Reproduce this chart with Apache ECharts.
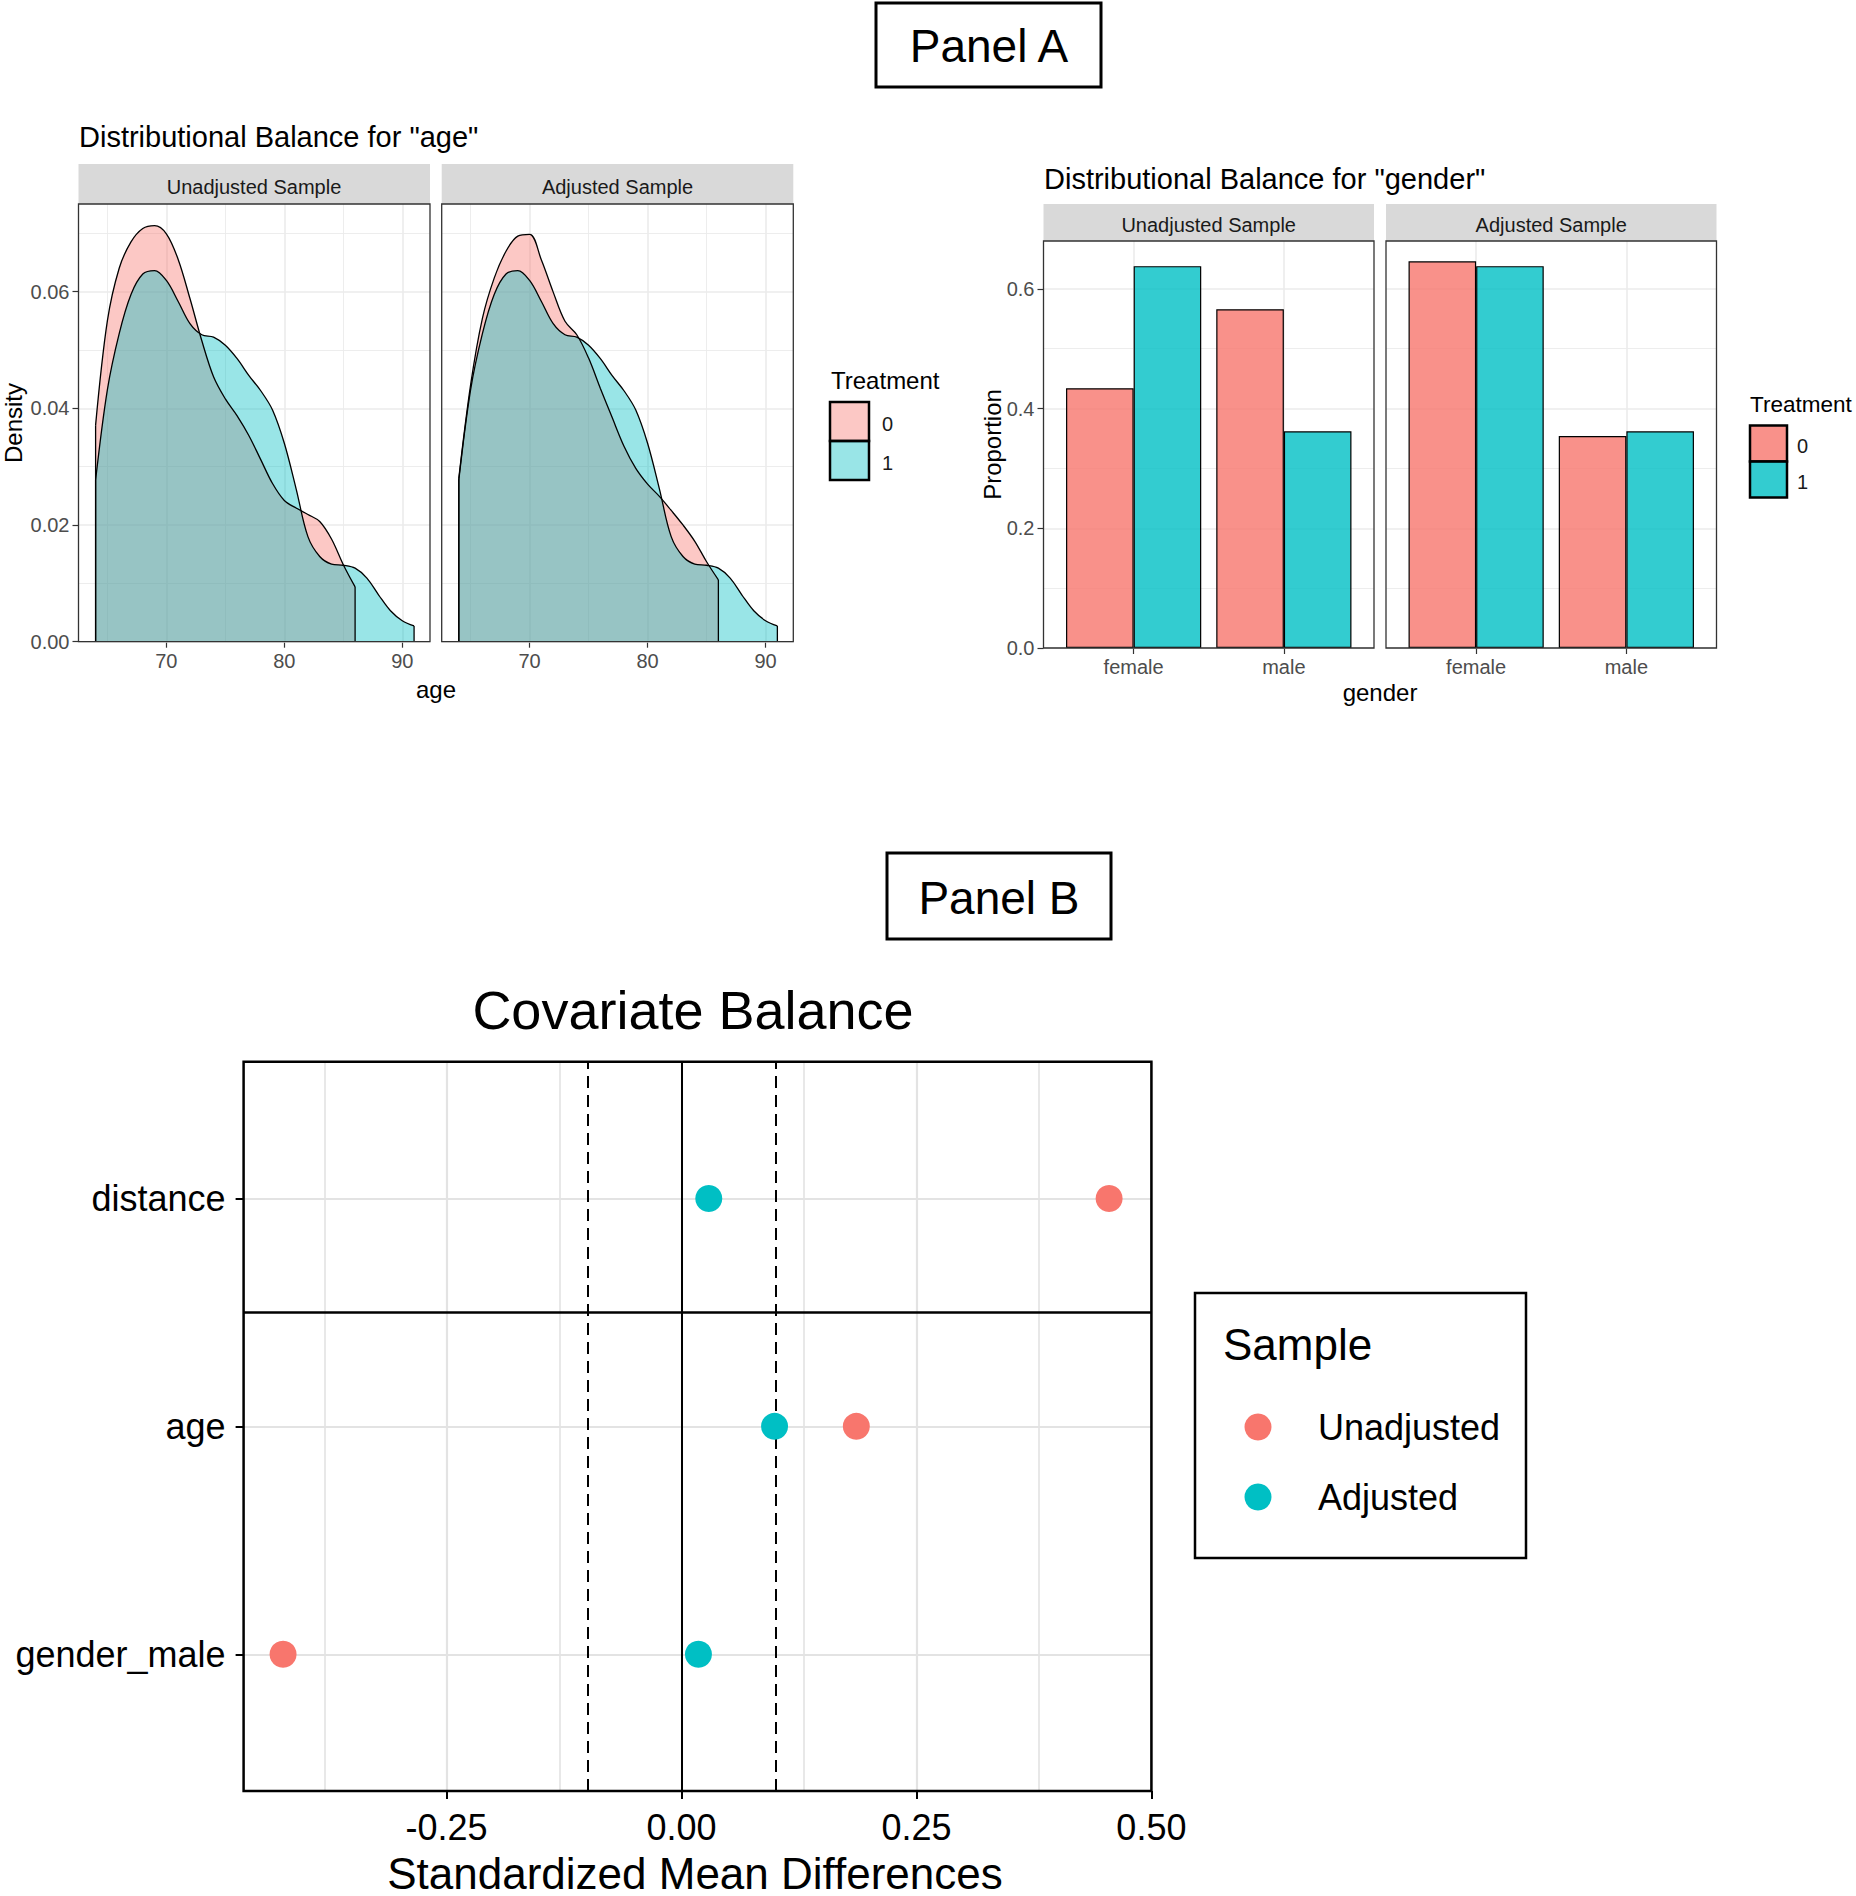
<!DOCTYPE html>
<html>
<head>
<meta charset="utf-8">
<title>Balance plots</title>
<script src="https://cdn.jsdelivr.net/npm/echarts@6.0.0/dist/echarts.min.js"></script>
<style>
  html, body { margin: 0; padding: 0; background: #fff; }
  #chart { width: 1856px; height: 1896px; }
</style>
</head>
<body>
<div id="chart"></div>
<script>
// values
const ages = [64, 65, 66, 67, 68, 69, 70, 71, 72, 73, 74, 75, 76, 77, 78, 79, 80, 81, 82, 83, 84, 85, 86, 87, 88, 89, 90, 91];
// treated group (1) is the same in both samples
const densTreated = [0.0277, 0.0432, 0.0528, 0.0595, 0.0630, 0.0636, 0.0619, 0.0583, 0.0545, 0.0526, 0.0522, 0.0508, 0.0485, 0.0456, 0.0430, 0.0397, 0.0340, 0.0262, 0.0180, 0.0146, 0.0133, 0.0131, 0.0126, 0.0109, 0.0080, 0.0053, 0.0036, 0.0027];
const densControlUnadj = [0.0371, 0.0550, 0.0640, 0.0685, 0.0708, 0.0713, 0.0699, 0.0655, 0.0588, 0.0516, 0.0454, 0.0416, 0.0387, 0.0353, 0.0312, 0.0271, 0.0242, 0.0229, 0.0218, 0.0206, 0.0176, 0.0132, 0.0094];
const densControlAdj = [0.0280, 0.0440, 0.0554, 0.0623, 0.0669, 0.0695, 0.0698, 0.0654, 0.0599, 0.0549, 0.0526, 0.0486, 0.0434, 0.0384, 0.0335, 0.0297, 0.0270, 0.0249, 0.0225, 0.0200, 0.0172, 0.0137, 0.0106];

const genderCats = ['female', 'male'];
const propUnadj0 = [0.434, 0.566];
const propUnadj1 = [0.638, 0.362];
const propAdj0 = [0.646, 0.354];
const propAdj1 = [0.638, 0.362];

const covariates = ['gender_male', 'age', 'distance'];   // bottom to top
const smdUnadj = [-0.424, 0.186, 0.455];
const smdAdj = [0.018, 0.099, 0.029];
const thresholds = [-0.1, 0.1];

const panels = ['Unadjusted Sample', 'Adjusted Sample'];
const treatLevels = ['0', '1'];
const sampleNames = ['Unadjusted', 'Adjusted'];

const ageTicks = [70, 80, 90];
const ageMinor = [65, 75, 85];
const densTicks = [0, 0.02, 0.04, 0.06];
const densMinor = [0.01, 0.03, 0.05, 0.07];
const propTicks = [0, 0.2, 0.4, 0.6];
const propMinor = [0.1, 0.3, 0.5];
const smdTicks = [-0.25, 0, 0.25, 0.5];
const smdMinor = [-0.375, -0.125, 0.125, 0.375];

const FONT = '"Liberation Sans", Arial, sans-serif';
const RED = '248,118,109', TEAL = '0,191,196';

const chart = echarts.init(document.getElementById('chart'), null, { renderer: 'svg' });

function gridBox(left, top, width, height, border, bw) {
    return { left, top, width, height, show: true, z: 10, backgroundColor: 'transparent',
        borderColor: border, borderWidth: bw, containLabel: false, outerBoundsMode: 'none' };
}

function valueAxis(grid, min, max, ticks, fmt, small, showTicks) {
    return {
        type: 'value', gridIndex: grid, min, max,
        axisLine: { show: false, onZero: false },
        splitLine: { show: false },
        axisTick: { show: showTicks, customValues: ticks, length: small ? 6 : 8,
            lineStyle: { color: small ? '#333333' : '#000', width: small ? 1.2 : 2 } },
        axisLabel: { show: showTicks, customValues: ticks, formatter: fmt,
            fontSize: small ? 20 : 36, lineHeight: small ? 20 : 36,
            color: small ? '#4D4D4D' : '#000', margin: small ? 9 : 18 }
    };
}

// light grid lines, drawn under the marks
function gridLines(i, xMaj, xMin, yMaj, yMin, wMaj, wMin, col) {
    const d = [];
    xMin.forEach(v => d.push({ xAxis: v, lineStyle: { width: wMin } }));
    yMin.forEach(v => d.push({ yAxis: v, lineStyle: { width: wMin } }));
    xMaj.forEach(v => d.push({ xAxis: v, lineStyle: { width: wMaj } }));
    yMaj.forEach(v => d.push({ yAxis: v, lineStyle: { width: wMaj } }));
    return { type: 'line', xAxisIndex: i, yAxisIndex: i, data: [], silent: true,
        markLine: { z: 1, silent: true, animation: false, symbol: ['none', 'none'],
            label: { show: false }, emphasis: { disabled: true },
            lineStyle: { color: col || '#EBEBEB', type: 'solid' }, data: d } };
}

function density(name, i, ys, rgb) {
    const data = ys.map((y, k) => [ages[k], y]);
    const first = data[0], last = data[data.length - 1];
    const edge = pts => ({ type: 'line', xAxisIndex: i, yAxisIndex: i, data: pts, symbol: 'none',
        silent: true, lineStyle: { color: '#000', width: 1.3 } });
    return [
        { name, type: 'line', xAxisIndex: i, yAxisIndex: i, data, smooth: 0.35,
          symbol: 'none', silent: true, lineStyle: { color: '#000', width: 1.3 },
          areaStyle: { color: 'rgba(' + rgb + ',0.4)', opacity: 1 } },
        edge([[first[0], 0], first]),
        edge([[last[0], 0], last])
    ];
}

function bars(name, i, ys, rgb) {
    return { name, type: 'bar', xAxisIndex: i, yAxisIndex: i, silent: true,
        data: ys.map((y, k) => [k + 1, y]), barGap: '0%', barCategoryGap: '10%',
        itemStyle: { color: 'rgba(' + rgb + ',0.8)', borderColor: '#000', borderWidth: 1.2 } };
}

function txt(text, x, y, size, align, fill, rotation) {
    return { type: 'text', x, y, rotation: rotation || 0, silent: true,
        style: { text, fontSize: size, lineHeight: size, fontFamily: FONT, fill: fill || '#000',
            align: align || 'center', verticalAlign: 'middle' } };
}
function box(x, y, w, h, fill, stroke, lw) {
    return { type: 'rect', silent: true, shape: { x, y, width: w, height: h },
        style: { fill: fill, stroke: stroke || null, lineWidth: lw || 0 } };
}

const ageFmt = v => String(v);
const genderFmt = v => genderCats[Math.round(v) - 1];
const covFmt = v => covariates[Math.round(v) - 1];

// facet strips, titles, legends
const graphics = [
    box(876, 3, 225, 84, '#fff', '#000', 3), txt('Panel A', 989, 46, 46),
    box(887, 853, 224, 86, '#fff', '#000', 3), txt('Panel B', 999, 897.5, 46),

    txt('Distributional Balance for "age"', 79, 137, 29, 'left'),
    box(78.5, 164, 351.5, 40, '#D9D9D9'), txt(panels[0], 254, 187, 20, 'center', '#1A1A1A'),
    box(441.7, 164, 351.6, 40, '#D9D9D9'), txt(panels[1], 617.5, 187, 20, 'center', '#1A1A1A'),
    txt('Density', 13, 423, 24, 'center', '#000', Math.PI / 2),
    txt('age', 436, 689, 24),
    txt('Treatment', 831, 380, 24, 'left'),
    box(830, 402, 39, 39, 'rgba(' + RED + ',0.4)', '#000', 2.5),
    box(830, 441, 39, 39, 'rgba(' + TEAL + ',0.4)', '#000', 2.5),
    txt(treatLevels[0], 882, 424, 20, 'left', '#1A1A1A'),
    txt(treatLevels[1], 882, 463, 20, 'left', '#1A1A1A'),

    txt('Distributional Balance for "gender"', 1044, 179, 29, 'left'),
    box(1043.5, 204, 330.5, 37, '#D9D9D9'), txt(panels[0], 1208.7, 225, 20, 'center', '#1A1A1A'),
    box(1386, 204, 330.5, 37, '#D9D9D9'), txt(panels[1], 1551.2, 225, 20, 'center', '#1A1A1A'),
    txt('Proportion', 992, 444.5, 24, 'center', '#000', Math.PI / 2),
    txt('gender', 1380, 692, 24),
    txt('Treatment', 1750, 404, 22.5, 'left'),
    box(1750, 425.5, 37, 36, 'rgba(' + RED + ',0.8)', '#000', 2.5),
    box(1750, 461.5, 37, 36, 'rgba(' + TEAL + ',0.8)', '#000', 2.5),
    txt(treatLevels[0], 1797, 446, 20, 'left', '#1A1A1A'),
    txt(treatLevels[1], 1797, 482, 20, 'left', '#1A1A1A'),

    txt('Covariate Balance', 693, 1010, 54),
    txt('Standardized Mean Differences', 695, 1873, 44),
    box(1195, 1293, 331, 265, '#fff', '#000', 2.5),
    txt('Sample', 1223, 1344, 44, 'left')
];

const series = [
    gridLines(0, ageTicks, ageMinor, densTicks, densMinor, 1.6, 0.9),
    gridLines(1, ageTicks, ageMinor, densTicks, densMinor, 1.6, 0.9),
    gridLines(2, [1, 2], [], propTicks, propMinor, 1.6, 0.9),
    gridLines(3, [1, 2], [], propTicks, propMinor, 1.6, 0.9),
    gridLines(4, smdTicks, smdMinor, [1, 2, 3], [], 2.2, 1.6, '#E3E3E3'),
    ...density('0', 0, densControlUnadj, RED),
    ...density('1', 0, densTreated, TEAL),
    ...density('0', 1, densControlAdj, RED),
    ...density('1', 1, densTreated, TEAL),
    bars('0', 2, propUnadj0, RED), bars('1', 2, propUnadj1, TEAL),
    bars('0', 3, propAdj0, RED), bars('1', 3, propAdj1, TEAL),
    {
        type: 'line', xAxisIndex: 4, yAxisIndex: 4, data: [], silent: true,
        markLine: { z: 3, silent: true, animation: false, symbol: ['none', 'none'],
            label: { show: false }, emphasis: { disabled: true },
            lineStyle: { color: '#000', width: 2, type: 'solid' },
            data: [
                { xAxis: 0 },
                ...thresholds.map(t => ({ xAxis: t, lineStyle: { type: [12, 7] } })),
                { yAxis: covariates.length - 0.5, lineStyle: { width: 2.5 } }
            ] }
    },
    { name: sampleNames[0], type: 'scatter', xAxisIndex: 4, yAxisIndex: 4, z: 5, silent: true,
      symbolSize: 27, itemStyle: { color: '#F8766D', opacity: 1 },
      data: covariates.map((c, k) => [smdUnadj[k], k + 1]) },
    { name: sampleNames[1], type: 'scatter', xAxisIndex: 4, yAxisIndex: 4, z: 5, silent: true,
      symbolSize: 27, itemStyle: { color: '#00BFC4', opacity: 1 },
      data: covariates.map((c, k) => [smdAdj[k], k + 1]) }
];

chart.setOption({
    animation: false,
    backgroundColor: '#fff',
    textStyle: { fontFamily: FONT },
    grid: [
        gridBox(78.5, 204, 351.5, 437.7, '#333333', 1.3),
        gridBox(441.7, 204, 351.6, 437.7, '#333333', 1.3),
        gridBox(1043.5, 241, 330.5, 407, '#333333', 1.3),
        gridBox(1386, 241, 330.5, 407, '#333333', 1.3),
        gridBox(243.6, 1061.7, 907.8, 729.3, '#000', 2.5)
    ],
    xAxis: [
        valueAxis(0, 62.55, 92.35, ageTicks, ageFmt, true, true),
        valueAxis(1, 62.55, 92.35, ageTicks, ageFmt, true, true),
        valueAxis(2, 0.4, 2.6, [1, 2], genderFmt, true, true),
        valueAxis(3, 0.4, 2.6, [1, 2], genderFmt, true, true),
        valueAxis(4, -0.466, 0.5, smdTicks, v => v.toFixed(2), false, true)
    ],
    yAxis: [
        valueAxis(0, 0, 0.075, densTicks, v => v.toFixed(2), true, true),
        valueAxis(1, 0, 0.075, densTicks, v => v.toFixed(2), true, false),
        valueAxis(2, 0, 0.68, propTicks, v => v.toFixed(1), true, true),
        valueAxis(3, 0, 0.68, propTicks, v => v.toFixed(1), true, false),
        valueAxis(4, 0.4, 3.6, [1, 2, 3], covFmt, false, true)
    ],
    legend: {
        data: sampleNames, orient: 'vertical', left: 1244.5, top: 1409, padding: 0,
        icon: 'circle', itemWidth: 110, itemHeight: 27, itemGap: 34, selectedMode: false,
        textStyle: { fontSize: 36, color: '#000', lineHeight: 36, fontFamily: FONT }
    },
    graphic: graphics,
    series
});
</script>
</body>
</html>
